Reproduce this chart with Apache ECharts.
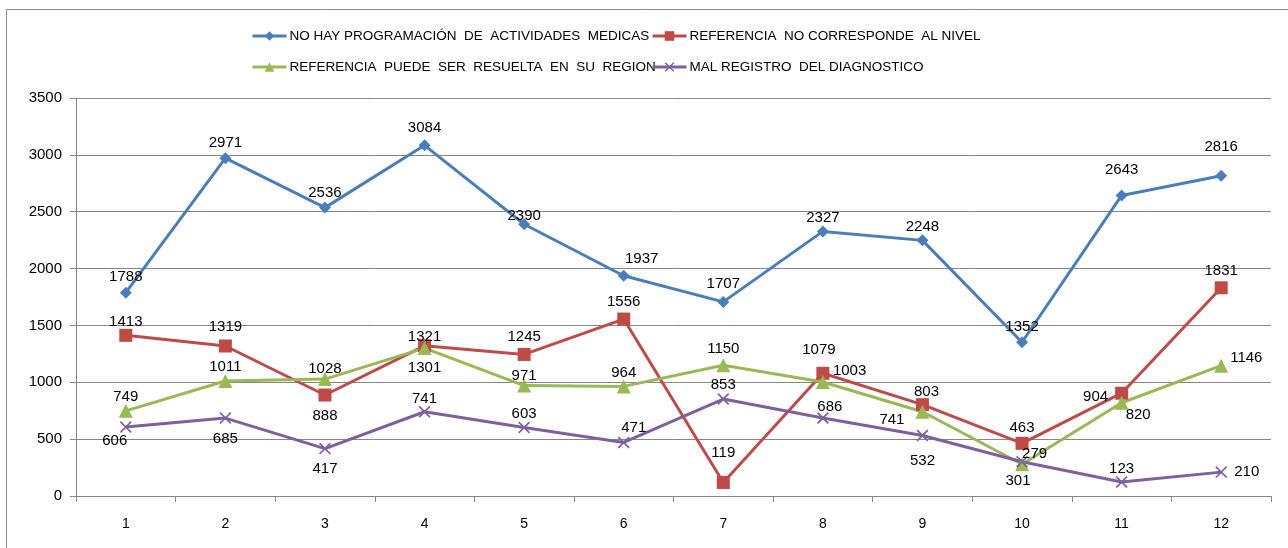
<!DOCTYPE html>
<html>
<head>
<meta charset="utf-8">
<script src="https://cdn.jsdelivr.net/npm/echarts@6/dist/echarts.min.js"></script>
<style>
  html, body { margin: 0; padding: 0; background: #fff; }
  #chart { width: 1288px; height: 548px; }
</style>
</head>
<body>
<div id="chart"></div>
<script>
const categories = ["1", "2", "3", "4", "5", "6", "7", "8", "9", "10", "11", "12"];

const noProgramacion = [1788, 2971, 2536, 3084, 2390, 1937, 1707, 2327, 2248, 1352, 2643, 2816];
const noCorresponde = [1413, 1319, 888, 1321, 1245, 1556, 119, 1079, 803, 463, 904, 1831];
const puedeResuelta = [749, 1011, 1028, 1301, 971, 964, 1150, 1003, 741, 279, 820, 1146];
const malRegistro = [606, 685, 417, 741, 603, 471, 853, 686, 532, 301, 123, 210];

const seriesNames = [
  "NO HAY PROGRAMACIÓN  DE  ACTIVIDADES  MEDICAS",
  "REFERENCIA  NO CORRESPONDE  AL NIVEL",
  "REFERENCIA  PUEDE  SER  RESUELTA  EN  SU  REGION",
  "MAL REGISTRO  DEL DIAGNOSTICO",
];

// label placement per point: side + small nudge [dx, dy]
const blueLabelPos = ["top", "top", "top", "top", "top", "top", "top", "top", "top", "top", "top", "top"];
const blueLabelNudge = [[0, 3], [0, 3], [0, 4], [0, 1], [0, 10], [18, 2], [0, 0], [0, 5], [0, 5], [0, 3], [0, -7], [0, -10]];

const redLabelPos = ["top", "top", "bottom", "top", "top", "top", "top", "top", "top", "top", "left", "top"];
const redLabelNudge = [[0, 6], [0, 0], [0, 2], [0, 10], [0, 1], [0, 2], [0, -11], [-4, -4], [4, 6], [0, 4], [-2, 4], [0, 2]];

const greenLabelPos = ["top", "top", "top", "bottom", "top", "top", "top", "right", "left", "right", "right", "right"];
const greenLabelNudge = [[0, 6], [0, 5], [0, 9], [0, 0], [0, 10], [0, 6], [0, 3], [-2, -11], [-6, 8], [-12, -10], [-8, 12], [-3, -8]];

const purpleLabelPos = ["bottom", "bottom", "bottom", "top", "top", "top", "top", "top", "bottom", "bottom", "top", "right"];
const purpleLabelNudge = [[-11, -5], [0, 2], [0, 2], [0, 6], [0, 5], [10, 4], [0, 4], [7, 7], [0, 7], [-4, 1], [0, 5], [2, 0]];

const FONT = "'Liberation Sans', 'DejaVu Sans', sans-serif";
const xMark = "path://M0,1L1,0L5,4L9,0L10,1L6,5L10,9L9,10L5,6L1,10L0,9L4,5Z";

function withLabels(values, positions, nudges) {
  return values.map((v, i) => ({
    value: v,
    label: { position: positions[i], offset: nudges[i] },
  }));
}

function lineSeries(name, values, positions, nudges, color, symbol, size) {
  return {
    name,
    type: "line",
    data: withLabels(values, positions, nudges),
    symbol,
    symbolSize: size,
    lineStyle: { color, width: 3 },
    itemStyle: { color },
    label: {
      show: true,
      color: "#000",
      fontSize: 15,
      fontFamily: FONT,
    },
    z: 3,
  };
}

const chart = echarts.init(document.getElementById("chart"));

const legendBase = {
  itemWidth: 34,
  itemHeight: 12,
  itemGap: 0,
  lineStyle: { width: 3 },
  textStyle: { color: "#000", fontSize: 13.5, fontFamily: FONT, padding: [0, 0, 0, -2] },
};

chart.setOption({
  animation: false,
  backgroundColor: "#fff",
  graphic: [
    {
      type: "rect",
      shape: { x: 6.5, y: 9.5, width: 1300, height: 600 },
      style: { fill: "none", stroke: "#8c8c8c", lineWidth: 1 },
      silent: true,
    },
  ],
  legend: [
    Object.assign({}, legendBase, { left: 246, top: 24, data: [seriesNames[0]] }),
    Object.assign({}, legendBase, { left: 646, top: 24, data: [seriesNames[1]] }),
    Object.assign({}, legendBase, { left: 246, top: 55, data: [seriesNames[2]] }),
    Object.assign({}, legendBase, { left: 646, top: 55, data: [seriesNames[3]] }),
  ],
  grid: { left: 76, right: 17, top: 98, bottom: 52 },
  xAxis: {
    type: "category",
    data: categories,
    boundaryGap: true,
    axisLine: { lineStyle: { color: "#868686", width: 1 } },
    axisTick: { show: true, length: 6, lineStyle: { color: "#868686" } },
    axisLabel: { color: "#000", fontSize: 14, fontFamily: FONT, margin: 21 },
  },
  yAxis: {
    type: "value",
    min: 0,
    max: 3500,
    interval: 500,
    axisLine: { show: true, lineStyle: { color: "#868686", width: 1 } },
    axisTick: { show: true, length: 6, lineStyle: { color: "#868686" } },
    axisLabel: {
      color: "#000",
      fontSize: 15,
      fontFamily: FONT,
      margin: 14,
      formatter: (v) => String(v),
    },
    splitLine: { lineStyle: { color: "#868686", width: 1 } },
  },
  series: [
    lineSeries(seriesNames[0], noProgramacion, blueLabelPos, blueLabelNudge, "#4A7EBB", "diamond", 12),
    lineSeries(seriesNames[1], noCorresponde, redLabelPos, redLabelNudge, "#BE4B48", "rect", 13),
    lineSeries(seriesNames[2], puedeResuelta, greenLabelPos, greenLabelNudge, "#98B954", "triangle", 14),
    lineSeries(seriesNames[3], malRegistro, purpleLabelPos, purpleLabelNudge, "#7D60A0", xMark, 12),
  ],
});
</script>
</body>
</html>
